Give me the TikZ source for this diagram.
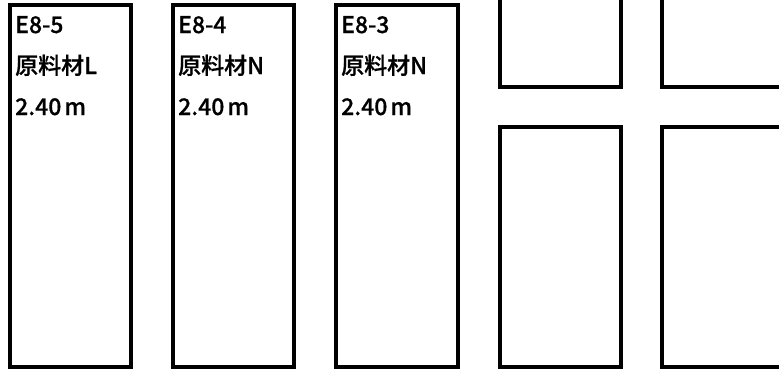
\documentclass[tikz,border=0pt]{standalone}
\usepackage{fontspec}
\setmainfont{Noto Sans CJK JP}[UprightFont={* Medium}, FakeBold=0.6]
\usepackage{tikz}

\begin{document}
\begin{tikzpicture}[x=1pt,y=-1pt,
  bin/.style={draw, rectangle, line width=4.5pt, outer sep=0pt, inner sep=0pt},
  tag/.style={anchor=base west, inner sep=0pt, font=\fontsize{23}{26}\selectfont}]
\useasboundingbox (0,0) rectangle (779,372);
\clip (0,0) rectangle (779,372);
\node[bin, minimum width=121pt, minimum height=362pt] (e85) at (70.5,186) {};
\node[bin, minimum width=121pt, minimum height=362pt] (e84) at (233.5,186) {};
\node[bin, minimum width=122pt, minimum height=362pt] (e83) at (397,186) {};
\node[bin, minimum width=121pt, minimum height=97pt] (ul) at (560.5,38.5) {};
\node[bin, minimum width=138pt, minimum height=97pt] (ur) at (731,38.5) {};
\node[bin, minimum width=121pt, minimum height=240pt] (ll) at (560.5,247) {};
\node[bin, minimum width=138pt, minimum height=240pt] (lr) at (731,247) {};
\node[tag] (e85a) at ([shift={(5,28)}]e85.north west) {E8-5};
\node[tag] (e85b) at ([shift={(5,69)}]e85.north west) {原料材L};
\node[tag] (e85c) at ([shift={(5,110)}]e85.north west) {2.40\kern3ptm};
\node[tag] (e84a) at ([shift={(5,28)}]e84.north west) {E8-4};
\node[tag] (e84b) at ([shift={(5,69)}]e84.north west) {原料材N};
\node[tag] (e84c) at ([shift={(5,110)}]e84.north west) {2.40\kern3ptm};
\node[tag] (e83a) at ([shift={(5,28)}]e83.north west) {E8-3};
\node[tag] (e83b) at ([shift={(5,69)}]e83.north west) {原料材N};
\node[tag] (e83c) at ([shift={(5,110)}]e83.north west) {2.40\kern3ptm};
\end{tikzpicture}
\end{document}
